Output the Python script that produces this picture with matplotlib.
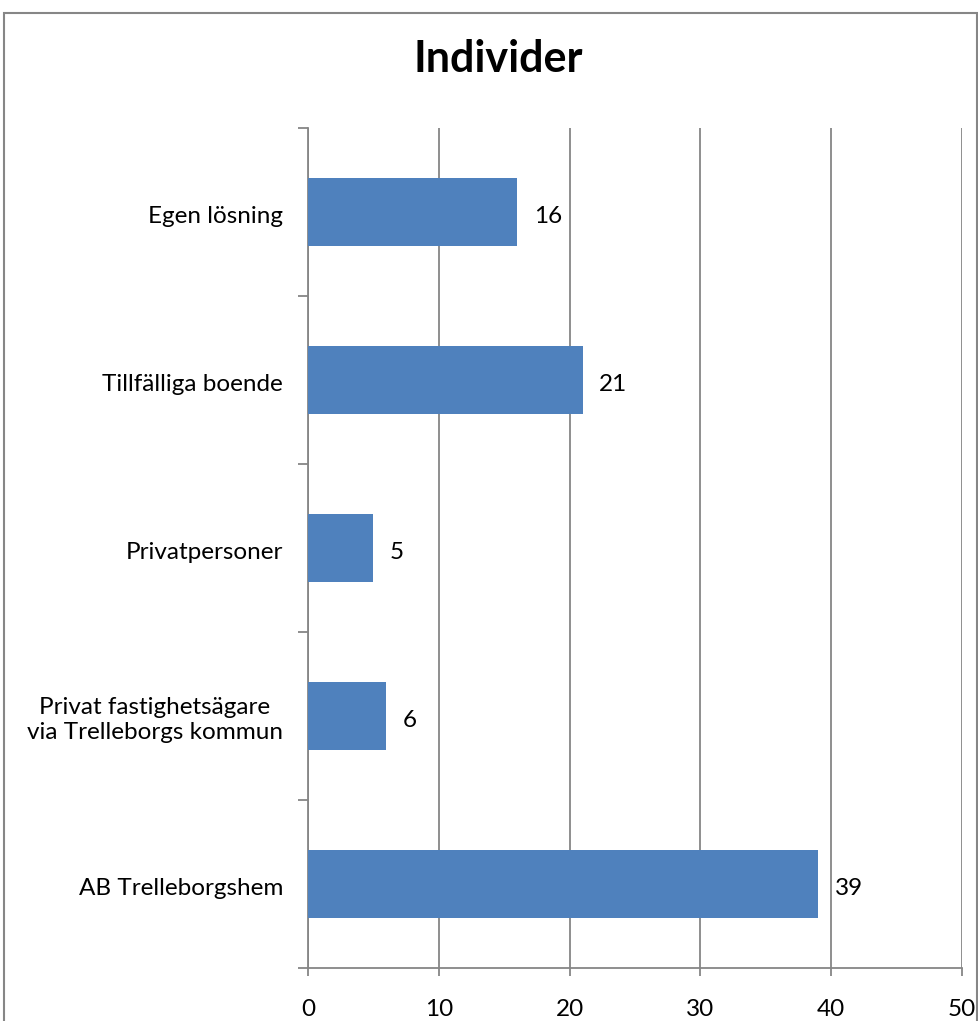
import matplotlib
matplotlib.use('Agg')
import matplotlib.pyplot as plt
from matplotlib.patches import Rectangle

plt.rcParams['font.family'] = ['Lato', 'DejaVu Sans']

# ── Data (bottom to top, as in the Excel chart) ──────────────────────────────
categories = ['AB Trelleborgshem',
              'Privat fastighetsägare\nvia Trelleborgs kommun',
              'Privatpersoner',
              'Tillfälliga boende',
              'Egen lösning']
values = [39, 6, 5, 21, 16]
x_ticks = [0, 10, 20, 30, 40, 50]

BAR = '#4F81BD'
GRID = '#868686'
FS = 17.5

W, H = 979, 1021
fig = plt.figure(figsize=(W / 100, H / 100), dpi=100)

# chart area border (Excel chart frame, bottom edge cropped off)
fig.patches.append(Rectangle((4 / W, -0.05), (977 - 4) / W, (H - 13) / H + 0.05,
                             transform=fig.transFigure, fill=False,
                             ec=GRID, lw=1.5))

ax = fig.add_axes([308 / W, (H - 968) / H, (962 - 308) / W, (968 - 128) / H])

pos = list(range(len(categories)))
ax.barh(pos, values, height=0.4, color=BAR, zorder=3)
for p, v in zip(pos, values):
    ax.annotate(str(v), (v, p), xytext=(12, -3), textcoords='offset points',
                ha='left', va='center', fontsize=FS)

# category labels (placed by hand so they sit like Excel's, slightly low)
for p, c in zip(pos, categories):
    ax.annotate(c, (0, p), xycoords=('axes fraction', 'data'),
                xytext=(-18, -3), textcoords='offset points',
                ha='right', va='center', ma='center', fontsize=FS)

ax.set_xlim(0, 50)
ax.set_ylim(-0.5, len(categories) - 0.5)
ax.set_xticks(x_ticks)
ax.set_xticklabels([str(t) for t in x_ticks], fontsize=FS)
ax.xaxis.grid(True, color=GRID, lw=1.3, zorder=0)

ax.set_yticks([i - 0.5 for i in range(len(categories) + 1)])
ax.set_yticklabels([])
ax.tick_params(axis='y', length=7, color=GRID, width=1.3)
ax.tick_params(axis='x', length=6, color=GRID, width=1.3, pad=16)

for s in ('top', 'right'):
    ax.spines[s].set_visible(False)
for s in ('left', 'bottom'):
    ax.spines[s].set_color(GRID)
    ax.spines[s].set_linewidth(1.3)

fig.text(498 / W, 1 - 59 / H, 'Individer', ha='center', va='center',
         fontsize=31, fontweight='bold')

fig.savefig('out.png', dpi=100)
